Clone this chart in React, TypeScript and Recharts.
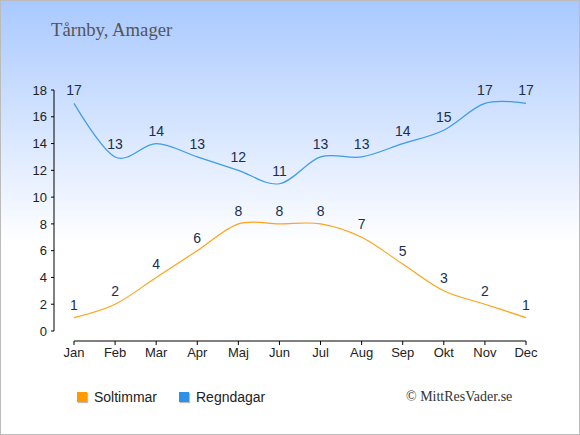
import React from "react";
import { LineChart, Line, XAxis, YAxis, LabelList, Legend } from "recharts";

document.body.style.margin = "0";

const months = ["Jan", "Feb", "Mar", "Apr", "Maj", "Jun", "Jul", "Aug", "Sep", "Okt", "Nov", "Dec"];
const soltimmar = [1, 2, 4, 6, 8, 8, 8, 7, 5, 3, 2, 1];
const regndagar = [17, 13, 14, 13, 12, 11, 13, 13, 14, 15, 17, 17];
const yTicks = [0, 2, 4, 6, 8, 10, 12, 14, 16, 18];
const legendItems = [
  { name: "Soltimmar", color: "#ff9a00" },
  { name: "Regndagar", color: "#2f91e6" },
];

const data = months.map((m, i) => ({ m, sol: soltimmar[i], regn: regndagar[i] }));

const SANS = "'Liberation Sans', Arial, sans-serif";
const SERIF = "'Liberation Serif', 'Times New Roman', serif";
const ORANGE = "#ffa31a";
const BLUE = "#3d9be9";

// catmull-rom style cardinal spline (d3 curveCardinal, tension 0)
function cardinal(context: any) {
  const k = 1 / 6;
  let x0 = NaN, x1 = NaN, x2 = NaN, y0 = NaN, y1 = NaN, y2 = NaN;
  let pt = 0;
  let line = NaN;
  const seg = (x: number, y: number) => {
    context.bezierCurveTo(
      x1 + k * (x2 - x0),
      y1 + k * (y2 - y0),
      x2 + k * (x1 - x),
      y2 + k * (y1 - y),
      x2,
      y2
    );
  };
  return {
    areaStart() { line = 0; },
    areaEnd() { line = NaN; },
    lineStart() { x0 = x1 = x2 = y0 = y1 = y2 = NaN; pt = 0; },
    lineEnd() {
      if (pt === 2) context.lineTo(x2, y2);
      else if (pt === 3) seg(x1, y1);
      if (line || (line !== 0 && pt === 1)) context.closePath();
      line = 1 - line;
    },
    point(x: number, y: number) {
      x = +x; y = +y;
      if (pt === 0) {
        pt = 1;
        line ? context.lineTo(x, y) : context.moveTo(x, y);
      } else if (pt === 1) {
        pt = 2;
        x1 = x; y1 = y;
      } else {
        pt = 3;
        seg(x, y);
      }
      x0 = x1; x1 = x2; x2 = x;
      y0 = y1; y1 = y2; y2 = y;
    },
  };
}

function LegendBox() {
  return (
    <div style={{ display: "flex", fontFamily: SANS, fontSize: 14, color: "#222" }}>
      {legendItems.map((p) => (
        <div key={p.name} style={{ display: "flex", alignItems: "center", width: 102, flex: "none" }}>
          <span
            style={{
              width: 10,
              height: 10,
              flex: "none",
              background: p.color,
              boxShadow: "1px 1px 1px #bbb",
              marginRight: 7,
            }}
          />
          <span>{p.name}</span>
        </div>
      ))}
    </div>
  );
}

export default function App() {
  const label = { fill: "#1a2f50", fontSize: 14, fontFamily: SANS };
  return (
    <div
      style={{
        position: "relative",
        width: 580,
        height: 435,
        boxSizing: "border-box",
        border: "1px solid #bbb",
        background: "linear-gradient(to bottom, #a9c9ff 0%, #ffffff 56%)",
        overflow: "hidden",
      }}
    >
      <div
        style={{
          position: "absolute",
          left: 50,
          top: 18,
          fontFamily: SERIF,
          fontSize: 18.7,
          color: "#555",
        }}
      >
        Tårnby, Amager
      </div>
      <div
        style={{
          position: "absolute",
          left: 405,
          top: 388,
          fontFamily: SERIF,
          fontSize: 14,
          color: "#333",
        }}
      >
        © MittResVader.se
      </div>
      <div style={{ position: "absolute", left: -1, top: -1 }}>
        <LineChart width={580} height={435} data={data} margin={{ top: 90, right: 54, bottom: 64, left: 14 }}>
          <XAxis xAxisId="pad" dataKey="m" height={10} axisLine={false} tickLine={false} tick={false} />
          <XAxis
            xAxisId="x"
            dataKey="m"
            height={30}
            stroke="#000"
            tickSize={4}
            tickMargin={3}
            interval={0}
            tick={{ fill: "#222", fontSize: 13, fontFamily: SANS }}
          />
          <YAxis yAxisId="pad" width={20} domain={[0, 18]} axisLine={false} tickLine={false} tick={false} />
          <YAxis
            yAxisId="y"
            width={40}
            domain={[0, 18]}
            ticks={yTicks}
            interval={0}
            stroke="#000"
            tickSize={3}
            tickMargin={4}
            tick={{ fill: "#222", fontSize: 13, fontFamily: SANS }}
          />
          <Line
            xAxisId="x"
            yAxisId="y"
            name="Soltimmar"
            dataKey="sol"
            type={cardinal as any}
            stroke={ORANGE}
            strokeWidth={1.2}
            dot={false}
            activeDot={false}
            isAnimationActive={false}
          >
            <LabelList dataKey="sol" position="top" offset={8} style={label} />
          </Line>
          <Line
            xAxisId="x"
            yAxisId="y"
            name="Regndagar"
            dataKey="regn"
            type={cardinal as any}
            stroke={BLUE}
            strokeWidth={1.2}
            dot={false}
            activeDot={false}
            isAnimationActive={false}
          >
            <LabelList dataKey="regn" position="top" offset={8} style={label} />
          </Line>
          <Legend
            layout="horizontal"
            verticalAlign="middle"
            align="center"
            wrapperStyle={{ top: 389, left: 77, width: 300, height: 20 }}
            content={<LegendBox />}
          />
        </LineChart>
      </div>
    </div>
  );
}
